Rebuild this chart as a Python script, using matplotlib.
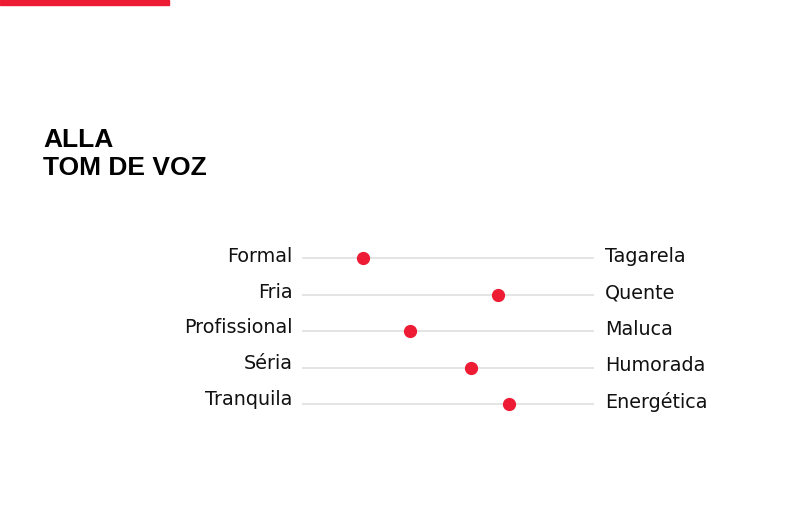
import matplotlib
matplotlib.use("Agg")
import matplotlib.pyplot as plt
from matplotlib.patches import Rectangle

left_labels = ["Formal", "Fria", "Profissional", "Séria", "Tranquila"]
right_labels = ["Tagarela", "Quente", "Maluca", "Humorada", "Energética"]
values = [21, 67, 37, 58, 71]
title_lines = ["ALLA", "TOM DE VOZ"]

RED = "#EE1B35"
W, H = 800, 517
fig = plt.figure(figsize=(W / 100, H / 100), dpi=100)
fig.patch.set_facecolor("white")

# top-left red bar
fig.patches.append(Rectangle((0, 1 - 5 / H), 169 / W, 5 / H, transform=fig.transFigure,
                             color=RED, zorder=5))

# title
fig.text(43 / W, 1 - 147 / H, title_lines[0], fontsize=19, fontweight="bold",
         family="Liberation Sans", color="black", va="baseline", ha="left")
fig.text(43 / W, 1 - 175 / H, title_lines[1], fontsize=19, fontweight="bold",
         family="Liberation Sans", color="black", va="baseline", ha="left")

# axes for the scale rows
row_px = 36.5
top_px = 258 - row_px / 2
n = len(values)
ax = fig.add_axes([302 / W, 1 - (top_px + n * row_px) / H, 292 / W, n * row_px / H])
ax.set_xlim(0, 100)
ax.set_ylim(n - 0.5, -0.5)
ax.axis("off")

for i, (l, r, v) in enumerate(zip(left_labels, right_labels, values)):
    ax.plot([0, 100], [i, i], color="#DCDCDC", lw=1.1, zorder=1, solid_capstyle="butt")
    ax.plot([v], [i], "o", color=RED, markersize=8.5, zorder=3)
    ax.annotate(l, xy=(0, i), xytext=(-7, 1.2 + 0.5 * i), textcoords="offset points",
                ha="right", va="center", fontsize=13.8, family="DejaVu Sans", color="#111111")
    ax.annotate(r, xy=(100, i), xytext=(8, 0.8 + 0.2 * i), textcoords="offset points",
                ha="left", va="center", fontsize=13.8, family="DejaVu Sans", color="#111111")

fig.savefig("out.png", dpi=100, facecolor="white")
